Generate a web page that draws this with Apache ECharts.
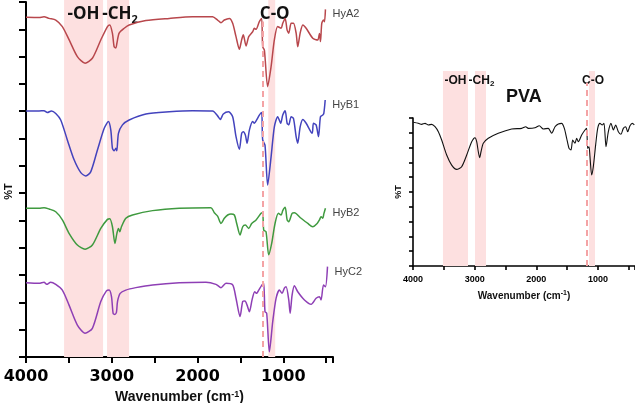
<!DOCTYPE html>
<html>
<head>
<meta charset="utf-8">
<script src="https://cdn.jsdelivr.net/npm/echarts@6/dist/echarts.min.js"></script>
<style>html,body{margin:0;padding:0;background:#fff}#c{width:635px;height:403px}</style>
</head>
<body>
<div id="c"></div>
<script>
// ---- data: [wavenumber (cm-1), %T (offset, arbitrary units)] ----
const HyA2 = [[4000,124.4],[3848,124.3],[3790,124.6],[3731,124.0],[3653,123.4],[3576,121.0],[3498,116.2],[3401,110.0],[3311,107.6],[3226,109.4],[3128,116.1],[3050,121.0],[3023,121.6],[2992,118.5],[2972,113.6],[2952,113.2],[2940,114.9],[2914,118.6],[2855,120.4],[2797,121.6],[2602,123.2],[2330,124.0],[2058,124.6],[1824,124.6],[1766,123.4],[1726,122.4],[1687,123.4],[1629,124.0],[1590,122.2],[1551,117.3],[1512,112.7],[1485,116.2],[1466,118.0],[1434,113.9],[1403,117.3],[1357,119.1],[1337,120.4],[1317,120.0],[1279,122.8],[1252,124.0],[1240,113.6],[1220,112.4],[1182,99.0],[1142,106.3],[1104,116.1],[1065,121.0],[1025,120.4],[1006,122.2],[978,124.0],[955,119.7],[936,118.6],[908,122.2],[881,122.2],[850,118.6],[831,113.6],[803,118.6],[772,121.6],[733,120.4],[656,116.7],[598,116.1],[578,118.5],[566,115.5],[551,122.2],[531,123.4],[519,122.8],[508,127.3]];
const HyB1 = [[4000,90.1],[3848,90.1],[3790,90.2],[3751,89.5],[3704,90.1],[3653,89.2],[3595,86.8],[3518,79.5],[3439,72.2],[3361,67.5],[3303,66.3],[3244,67.9],[3167,75.8],[3089,83.7],[3039,86.2],[3011,83.1],[2992,76.4],[2972,75.5],[2952,76.4],[2941,75.5],[2922,81.9],[2875,85.0],[2797,86.8],[2602,89.0],[2330,89.8],[2058,90.2],[1824,90.1],[1766,88.3],[1734,87.0],[1699,89.0],[1637,89.8],[1590,88.0],[1551,80.7],[1512,76.1],[1485,81.9],[1466,82.5],[1442,81.3],[1422,78.3],[1395,83.1],[1357,86.2],[1337,85.6],[1310,86.8],[1279,88.6],[1252,89.5],[1240,79.5],[1213,77.6],[1182,63.0],[1142,73.3],[1104,84.3],[1065,88.0],[1030,85.6],[1006,88.6],[978,90.2],[955,85.6],[936,85.0],[908,88.0],[881,87.4],[850,80.7],[831,78.3],[803,84.3],[772,87.0],[733,85.6],[663,81.9],[648,85.6],[617,85.0],[589,80.7],[566,88.0],[539,88.6],[527,89.2],[511,94.1]];
const HyB2 = [[4000,54.5],[3848,54.5],[3790,54.7],[3731,54.2],[3653,53.2],[3576,50.2],[3498,45.3],[3401,41.0],[3311,39.5],[3226,41.0],[3128,47.1],[3050,50.4],[3023,50.6],[2992,47.7],[2963,41.6],[2940,45.3],[2922,47.1],[2906,45.9],[2887,47.7],[2836,50.8],[2758,52.0],[2524,53.6],[2213,54.5],[1843,54.7],[1804,52.8],[1766,51.6],[1726,48.9],[1687,50.8],[1648,52.0],[1610,52.4],[1570,52.0],[1543,48.9],[1504,44.7],[1473,47.7],[1442,48.3],[1403,47.1],[1368,48.9],[1317,50.2],[1259,52.6],[1240,52.8],[1228,46.5],[1201,45.9],[1170,37.4],[1135,41.6],[1096,48.9],[1057,52.6],[1025,52.0],[1006,53.6],[978,54.8],[955,50.2],[936,49.5],[897,52.6],[870,52.8],[792,50.8],[714,48.9],[656,47.7],[605,48.9],[578,50.2],[559,51.4],[539,50.8],[527,52.4],[508,54.5]];
const HyC2 = [[4000,27.2],[3848,27.0],[3790,27.4],[3759,26.6],[3712,27.4],[3653,26.6],[3576,24.5],[3498,19.0],[3401,11.7],[3311,8.7],[3226,10.5],[3128,20.3],[3062,24.2],[3031,24.5],[3003,22.1],[2984,16.0],[2964,15.6],[2945,16.4],[2933,20.3],[2902,23.3],[2836,24.5],[2719,25.4],[2524,26.4],[2213,27.2],[1901,27.4],[1785,26.6],[1726,25.4],[1668,27.0],[1590,26.4],[1551,21.5],[1504,14.8],[1473,20.3],[1446,20.5],[1422,19.0],[1395,16.6],[1364,20.9],[1333,23.9],[1310,23.3],[1286,24.5],[1248,26.4],[1228,27.0],[1213,16.6],[1193,16.0],[1162,1.9],[1123,12.9],[1084,21.5],[1045,24.5],[1014,23.3],[987,25.2],[967,25.7],[936,20.9],[920,16.0],[897,22.7],[870,26.1],[831,23.9],[753,20.9],[675,19.3],[617,21.5],[578,22.1],[559,20.9],[531,26.4],[508,25.7],[484,33.1]];
const PVA = [[3995,97.1],[3914,96.4],[3860,95.7],[3805,96.4],[3751,95.3],[3697,95.7],[3643,94.1],[3589,90.7],[3535,85.1],[3454,75.0],[3373,68.2],[3292,65.3],[3211,67.1],[3129,75.0],[3048,84.0],[2995,86.7],[2967,84.0],[2941,77.2],[2919,73.2],[2897,77.2],[2860,82.9],[2779,86.3],[2617,89.7],[2400,92.6],[2237,93.0],[2172,94.1],[2130,93.0],[2022,93.4],[1952,94.8],[1887,92.6],[1806,93.0],[1751,89.7],[1697,94.1],[1643,95.9],[1589,96.4],[1546,93.0],[1508,86.3],[1470,79.5],[1438,78.4],[1410,85.1],[1373,82.9],[1346,86.3],[1319,84.0],[1265,88.5],[1211,91.9],[1184,93.0],[1168,79.5],[1146,80.6],[1130,73.9],[1103,61.5],[1076,67.1],[1038,81.8],[1005,93.0],[968,96.4],[930,95.3],[903,96.4],[870,80.6],[833,90.7],[789,96.4],[751,91.9],[713,95.3],[670,90.7],[627,89.0],[589,93.0],[551,94.1],[519,90.7],[481,94.8],[443,96.4],[411,95.3]];

const seriesNames = ['HyA2','HyB1','HyB2','HyC2'];
const seriesColors = ['#b8474c','#4343bd','#3f9a3f','#8e3fb5'];
// bands [name, from, to] in cm-1
const bandsLeft = [['-OH',3556,3101],['-CH2',3055,2798],['C-O',1175,1094]];
const bandsRight = [['-OH',3514,3108],['-CH2',2995,2816],['C-O',1146,1049]];
const dashLeft = 1234, dashRight = 1179;
const xTickLabels = [4000,3000,2000,1000];

// ---- build ----
const toXY = d => d.map(p => [-p[0], p[1]]);
const fmtX = v => xTickLabels.indexOf(-v) >= 0 ? String(-v) : '';
const pink = '#fde0e0';

function bandLabelFmt(name) {
  return name === '-CH2' ? '{a|-CH}{s|2}' : '{a|' + name + '}';
}
function makeBandSeries(bands, dashWn, xi, big) {
  const fs = big ? 17 : 12;
  return {
    type: 'line', xAxisIndex: xi, yAxisIndex: xi, data: [], z: 1, silent: true,
    markArea: {
      silent: true,
      itemStyle: { color: pink },
      data: bands.map(b => [{
        xAxis: -b[1],
        label: {
          show: true, position: 'insideTop', distance: big ? 3 : 2,
          offset: b[0] === 'C-O' ? [big ? 3 : 1, 0] : (b[0] === '-CH2' ? [big ? 2 : 1, 0] : [0, 0]),
          formatter: bandLabelFmt(b[0]),
          rich: {
            a: { fontSize: fs, fontWeight: 'bold', color: '#111', fontFamily: big ? 'Open Sans' : 'Liberation Sans', lineHeight: big ? 22 : 15 },
            s: { fontSize: big ? 11 : 8, fontWeight: 'bold', color: '#111', fontFamily: big ? 'Open Sans' : 'Liberation Sans', verticalAlign: 'bottom', lineHeight: big ? 12 : 9 }
          }
        }
      }, { xAxis: -b[2] }])
    },
    markLine: {
      silent: true, symbol: 'none',
      label: { show: false },
      lineStyle: { color: '#f4a3a5', width: 2, type: [6, 4] },
      data: [[{ coord: [-dashWn, 0] }, { coord: [-dashWn, 0.94] }]]
    }
  };
}

const axisLineStyle = { color: '#000', width: 2 };
const g = (l, r, t, b) => ({ left: l, right: r, top: t, bottom: b, containLabel: false, outerBoundsMode: 'none' });
const option = {
  animation: false,
  backgroundColor: '#fff',
  title: { text: 'PVA', left: 501, top: 83, textStyle: { fontSize: 18, fontWeight: 'bold', color: '#111', fontFamily: 'Liberation Sans' } },
  grid: [ g(26, 302, 2, 46), g(26, 302, 0, 46), g(413, 0, 118, 137), g(413, 0, 71, 137) ],
  xAxis: [
    { type: 'value', gridIndex: 0, min: -4000, max: -420, interval: 500,
      axisLine: { lineStyle: axisLineStyle }, axisTick: { length: 6, lineStyle: { width: 2, color: '#000' } },
      splitLine: { show: false },
      axisLabel: { formatter: fmtX, fontSize: 16, fontWeight: 'bold', color: '#000', fontFamily: 'DejaVu Sans', margin: 12 },
      name: '{a|Wavenumber (cm}{s|-1}{a|)}', nameLocation: 'middle', nameGap: 29,
      nameTextStyle: { rich: {
        a: { fontSize: 14, fontWeight: 'bold', color: '#111', fontFamily: 'Liberation Sans', lineHeight: 14 },
        s: { fontSize: 9, fontWeight: 'bold', color: '#111', fontFamily: 'Liberation Sans', verticalAlign: 'top', lineHeight: 9 } } } },
    { type: 'value', gridIndex: 1, min: -4000, max: -420, show: false },
    { type: 'value', gridIndex: 2, min: -4000, max: -400, interval: 500,
      axisLine: { lineStyle: { color: '#000', width: 1.6 } }, axisTick: { length: 4, lineStyle: { width: 1.6, color: '#000' } },
      splitLine: { show: false },
      axisLabel: { formatter: fmtX, fontSize: 9, fontWeight: 'bold', color: '#000', fontFamily: 'Liberation Sans', margin: 9 },
      name: '{a|Wavenumber (cm}{s|-1}{a|)}', nameLocation: 'middle', nameGap: 24,
      nameTextStyle: { rich: {
        a: { fontSize: 10, fontWeight: 'bold', color: '#111', fontFamily: 'Liberation Sans', lineHeight: 13 },
        s: { fontSize: 7, fontWeight: 'bold', color: '#111', fontFamily: 'Liberation Sans', verticalAlign: 'top', lineHeight: 8 } } } },
    { type: 'value', gridIndex: 3, min: -4000, max: -400, show: false }
  ],
  yAxis: [
    { type: 'value', gridIndex: 0, min: 0, max: 130, interval: 10,
      axisLine: { show: true, lineStyle: axisLineStyle }, axisTick: { show: true, length: 7, lineStyle: { width: 2, color: '#000' } },
      axisLabel: { show: false }, splitLine: { show: false },
      name: '%T', nameLocation: 'middle', nameGap: 12, nameRotate: 90,
      nameTextStyle: { fontSize: 11, fontWeight: 'bold', color: '#111', fontFamily: 'Liberation Sans', padding: [0, 24, 0, 0] } },
    { type: 'value', gridIndex: 1, min: 0, max: 1, show: false },
    { type: 'value', gridIndex: 2, min: 0, max: 100, interval: 10,
      axisLine: { show: true, lineStyle: { color: '#000', width: 1.6 } }, axisTick: { show: true, length: 4, lineStyle: { width: 1.6, color: '#000' } },
      axisLabel: { show: false }, splitLine: { show: false },
      name: '%T', nameLocation: 'middle', nameGap: 10, nameRotate: 90,
      nameTextStyle: { fontSize: 9, fontWeight: 'bold', color: '#111', fontFamily: 'Liberation Sans' } },
    { type: 'value', gridIndex: 3, min: 0, max: 1, show: false }
  ],
  series: [
    makeBandSeries(bandsLeft, dashLeft, 1, true),
    makeBandSeries(bandsRight, dashRight, 3, false),
    ...[HyA2, HyB1, HyB2, HyC2].map((d, i) => ({
      name: seriesNames[i], type: 'line', xAxisIndex: 0, yAxisIndex: 0, z: 3,
      data: toXY(d), showSymbol: false, smooth: 0.25, clip: false,
      lineStyle: { color: seriesColors[i], width: 1.5 },
      endLabel: { show: true, formatter: '{a}', color: '#444', fontSize: 11, fontFamily: 'Liberation Sans', distance: 7, offset: [0, 5] }
    })),
    { name: 'PVA', type: 'line', xAxisIndex: 2, yAxisIndex: 2, z: 3, data: toXY(PVA), showSymbol: false, smooth: 0.25,
      lineStyle: { color: '#111', width: 1.1 } }
  ]
};
const chart = echarts.init(document.getElementById('c'), null, { renderer: 'canvas' });
chart.setOption(option);
</script>
</body>
</html>
